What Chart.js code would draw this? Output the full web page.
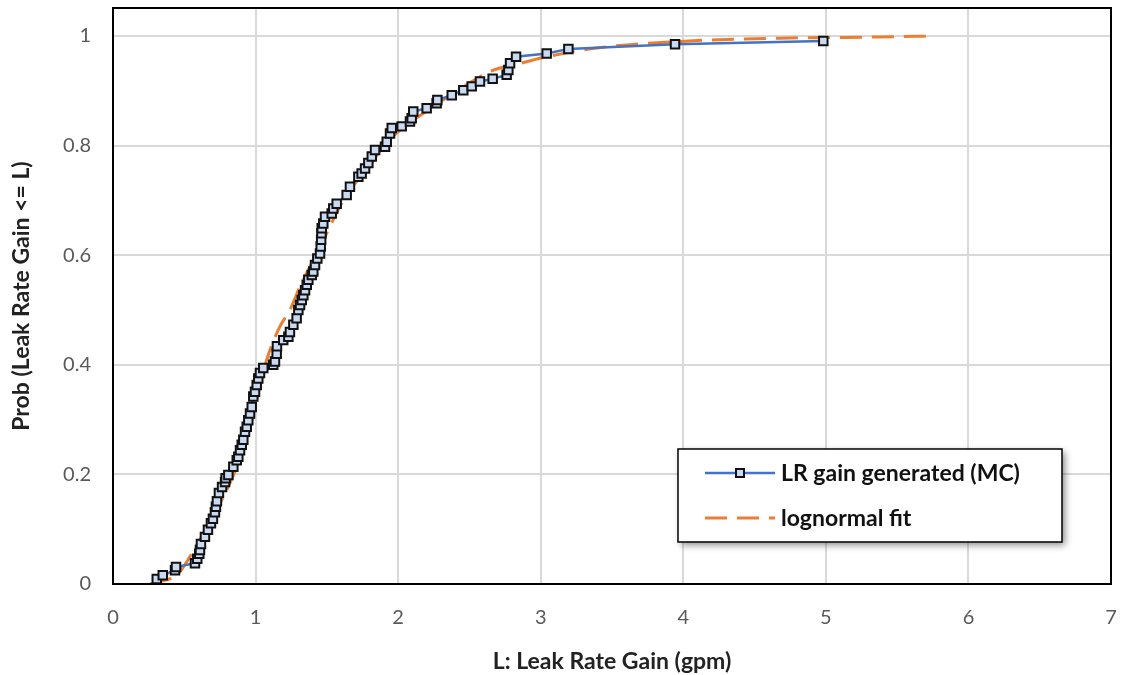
<!DOCTYPE html>
<html>
<head>
<meta charset="utf-8">
<script src="https://cdn.jsdelivr.net/npm/chart.js@4/dist/chart.umd.min.js"></script>
<style>
  html, body { margin: 0; padding: 0; background: #fff; }
  #wrap { width: 1123px; height: 675px; position: relative; }
</style>
</head>
<body>
<div id="wrap"><canvas id="cdfChart" width="1123" height="675"></canvas></div>
<script>
// Monte Carlo leak rate gain samples (sorted) and their cumulative probability
const mcGain = [0.307, 0.349, 0.435, 0.442, 0.575, 0.591, 0.605, 0.610, 0.617, 0.645,
    0.666, 0.687, 0.701, 0.715, 0.722, 0.729, 0.743, 0.765, 0.786, 0.790,
    0.809, 0.844, 0.868, 0.879, 0.891, 0.903, 0.914, 0.926, 0.938, 0.949,
    0.961, 0.973, 0.984, 0.996, 1.008, 1.019, 1.031, 1.054, 1.124, 1.136,
    1.148, 1.150, 1.194, 1.230, 1.241, 1.265, 1.288, 1.300, 1.312, 1.324,
    1.335, 1.347, 1.359, 1.370, 1.394, 1.405, 1.417, 1.433, 1.452, 1.457,
    1.460, 1.462, 1.464, 1.475, 1.487, 1.534, 1.545, 1.569, 1.639, 1.662,
    1.721, 1.744, 1.768, 1.791, 1.815, 1.838, 1.908, 1.920, 1.943, 1.955,
    2.025, 2.083, 2.095, 2.106, 2.200, 2.270, 2.275, 2.376, 2.457, 2.516,
    2.574, 2.663, 2.761, 2.773, 2.785, 2.827, 3.042, 3.194, 3.942, 4.982];
const mcProb = [0.009, 0.016, 0.025, 0.031, 0.038, 0.046, 0.055, 0.062, 0.073, 0.086,
    0.099, 0.111, 0.119, 0.131, 0.141, 0.151, 0.166, 0.177, 0.186, 0.193,
    0.199, 0.214, 0.226, 0.232, 0.244, 0.254, 0.263, 0.278, 0.287, 0.299,
    0.311, 0.323, 0.342, 0.351, 0.363, 0.375, 0.385, 0.394, 0.400, 0.406,
    0.420, 0.434, 0.445, 0.451, 0.460, 0.473, 0.485, 0.500, 0.509, 0.518,
    0.527, 0.536, 0.546, 0.555, 0.564, 0.570, 0.582, 0.594, 0.603, 0.616,
    0.628, 0.640, 0.649, 0.658, 0.670, 0.676, 0.685, 0.694, 0.710, 0.725,
    0.743, 0.749, 0.758, 0.768, 0.780, 0.792, 0.798, 0.807, 0.822, 0.832,
    0.835, 0.844, 0.850, 0.862, 0.868, 0.877, 0.883, 0.892, 0.901, 0.908,
    0.917, 0.922, 0.929, 0.938, 0.950, 0.962, 0.968, 0.976, 0.985, 0.991];

// lognormal fit curve
const fitGain = [0.26, 0.35, 0.447, 0.54, 0.633, 0.727, 0.82, 0.914, 0.984, 1.078,
    1.171, 1.241, 1.312, 1.405, 1.499, 1.592, 1.662, 1.779, 1.896, 2.013,
    2.247, 2.481, 2.644, 2.902, 3.042, 3.393, 3.977, 4.678, 5.357, 5.765];
const fitProb = [0.0, 0.006, 0.016, 0.05, 0.092, 0.135, 0.184, 0.245, 0.311, 0.409,
    0.47, 0.50, 0.543, 0.591, 0.640, 0.689, 0.719, 0.755, 0.798, 0.828,
    0.871, 0.911, 0.935, 0.953, 0.962, 0.978, 0.990, 0.996, 0.998, 1.0];

const xTicks = [0, 1, 2, 3, 4, 5, 6, 7];
const yTicks = [0, 0.2, 0.4, 0.6, 0.8, 1];

const seriesNames = ['LR gain generated (MC)', 'lognormal fit'];

const FONT = 'Lato, "Open Sans", sans-serif';

// black frame round the plot area
const frame = {
    id: 'frame',
    afterDraw(chart) {
        const { ctx, chartArea: a } = chart;
        ctx.save();
        ctx.strokeStyle = '#000';
        ctx.lineWidth = 2;
        ctx.strokeRect(a.left, a.top, a.right - a.left, a.bottom - a.top);
        ctx.restore();
    }
};

// boxed legend inside the plot, lower right
const boxLegend = {
    id: 'boxLegend',
    afterDraw(chart) {
        const ctx = chart.ctx;
        const x = 678, y = 449, w = 384, h = 93;
        ctx.save();
        ctx.shadowColor = 'rgba(0,0,0,0.45)';
        ctx.shadowBlur = 7;
        ctx.shadowOffsetX = 3;
        ctx.shadowOffsetY = 3;
        ctx.fillStyle = '#fff';
        ctx.fillRect(x, y, w, h);
        ctx.restore();

        ctx.save();
        ctx.strokeStyle = '#000';
        ctx.lineWidth = 1.5;
        ctx.strokeRect(x, y, w, h);

        const ds = chart.data.datasets;
        const rows = [473, 518];
        rows.forEach((ry, i) => {
            const d = ds[i];
            ctx.strokeStyle = d.borderColor;
            ctx.lineWidth = d.borderWidth;
            ctx.setLineDash(d.borderDash || []);
            ctx.beginPath();
            ctx.moveTo(705, ry);
            ctx.lineTo(775, ry);
            ctx.stroke();
            ctx.setLineDash([]);
            if (d.pointRadius > 0) {
                ctx.fillStyle = d.pointBackgroundColor;
                ctx.strokeStyle = d.pointBorderColor;
                ctx.lineWidth = 2;
                ctx.fillRect(736, ry - 4, 8, 8);
                ctx.strokeRect(736, ry - 4, 8, 8);
            }
            ctx.fillStyle = '#111';
            ctx.font = 'bold 23px ' + FONT;
            ctx.textBaseline = 'middle';
            ctx.fillText(d.label, 781, ry + 1);
        });
        ctx.restore();
    }
};

const ctx = document.getElementById('cdfChart').getContext('2d');
new Chart(ctx, {
    type: 'scatter',
    data: {
        datasets: [{
            label: seriesNames[0],
            data: mcGain.map((g, i) => ({ x: g, y: mcProb[i] })),
            showLine: true,
            borderColor: '#4472C4',
            borderWidth: 2.5,
            tension: 0,
            pointStyle: 'rect',
            pointRadius: 6,
            pointBorderWidth: 2,
            pointBackgroundColor: '#C9DAF2',
            pointBorderColor: '#111'
        }, {
            label: seriesNames[1],
            data: fitGain.map((g, i) => ({ x: g, y: fitProb[i] })),
            showLine: true,
            borderColor: '#ED7D31',
            borderWidth: 3,
            borderDash: [22, 10],
            cubicInterpolationMode: 'monotone',
            pointRadius: 0
        }]
    },
    options: {
        responsive: false,
        animation: false,
        layout: { padding: { top: 8, right: 12, left: 0, bottom: 0 } },
        plugins: {
            legend: { display: false },
            tooltip: { enabled: false }
        },
        scales: {
            x: {
                type: 'linear',
                min: 0,
                max: 7,
                afterBuildTicks: s => { s.ticks = xTicks.map(v => ({ value: v })); },
                afterFit: s => {
                    s.height = 91;
                    s.paddingLeft = 0;
                    s.paddingRight = 0;
                },
                grid: { color: '#d9d9d9', lineWidth: 2, drawTicks: false },
                border: { display: false },
                ticks: {
                    padding: 22,
                    color: '#595959',
                    font: { family: FONT, size: 20 },
                    callback: v => String(v)
                },
                title: {
                    display: true,
                    text: 'L: Leak Rate Gain (gpm)',
                    color: '#222',
                    font: { family: FONT, size: 23, weight: 'bold' },
                    padding: { top: 6, bottom: 0 }
                }
            },
            y: {
                type: 'linear',
                min: 0,
                max: 1.051,
                afterBuildTicks: s => { s.ticks = yTicks.map(v => ({ value: v })); },
                afterFit: s => {
                    s.width = 113;
                    s.paddingTop = 0;
                    s.paddingBottom = 0;
                },
                grid: { color: '#d9d9d9', lineWidth: 2, drawTicks: false },
                border: { display: false },
                ticks: {
                    padding: 22,
                    color: '#595959',
                    font: { family: FONT, size: 20 },
                    callback: v => String(v)
                },
                title: {
                    display: true,
                    text: 'Prob (Leak Rate Gain <= L)',
                    color: '#222',
                    font: { family: FONT, size: 23, weight: 'bold' },
                    padding: { top: 8, bottom: 0 }
                }
            }
        }
    },
    plugins: [frame, boxLegend]
});
</script>
</body>
</html>
